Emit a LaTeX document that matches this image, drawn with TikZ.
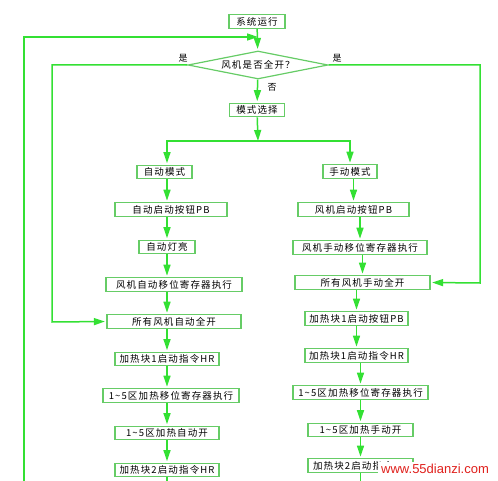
\documentclass[tikz,border=0pt]{standalone}
\usepackage{fontspec}
\usepackage{xcolor}
\usepackage{tikz}
\usetikzlibrary{arrows.meta,shapes.geometric}
\newfontfamily\cjkfont[LetterSpace=12]{Noto Sans CJK SC}
\newfontfamily\markfont{Liberation Sans}
\definecolor{flowLine}{HTML}{33E033}
\definecolor{flowBox}{HTML}{66CC66}
\definecolor{markRed}{HTML}{E0201C}
\tikzset{
  box/.style={
    rectangle,
    draw=flowBox,
    fill=white,
    line width=1.2pt,
    align=center,
    font=\cjkfont\fontsize{9.5}{11}\selectfont,
    minimum height=13.5pt,
    inner sep=0pt
  },
  decision/.style={
    diamond,
    draw=flowBox,
    fill=white,
    line width=1.2pt,
    shape aspect=5,
    font=\cjkfont\fontsize{9.5}{11}\selectfont,
    minimum width=140pt,
    minimum height=28pt,
    inner sep=0pt
  },
  tag/.style={font=\cjkfont\fontsize{9}{10}\selectfont, inner sep=0pt},
  line/.style={draw=flowLine, line width=1.5pt},
  arrow/.style={line, -{Triangle[length=11pt,width=7pt]}, shorten >=1.5pt}
}

\begin{document}
\begin{tikzpicture}[x=1pt, y=-1pt]
  \useasboundingbox (0,0) rectangle (498,481);

  % top of the chart
  \node[box, minimum width=56pt] (start) at (257,21.5) {系统运行};
  \node[decision] (dia) at (258,65) {风机是否全开？};
  \node[box, minimum width=55pt] (mode) at (257,110) {模式选择};
  \node[tag] (yesl) at (183,58) {是};
  \node[tag] (yesr) at (337,58) {是};
  \node[tag] (nolbl) at (272,87) {否};

  % automatic column
  \node[box, minimum width=55pt]  (a1) at (164.5,172) {自动模式};
  \node[box, minimum width=112pt] (a2) at (171,209.5) {自动启动按钮PB};
  \node[box, minimum width=56pt]  (a3) at (167,247) {自动灯亮};
  \node[box, minimum width=136pt] (a4) at (174,284.5) {风机自动移位寄存器执行};
  \node[box, minimum width=134pt] (a5) at (174,321.5) {所有风机自动全开};
  \node[box, minimum width=104pt] (a6) at (167,359) {加热块1启动指令HR};
  \node[box, minimum width=136pt] (a7) at (171,395.5) {1\textasciitilde5区加热移位寄存器执行};
  \node[box, minimum width=104pt] (a8) at (167,433) {1\textasciitilde5区加热自动开};
  \node[box, minimum width=104pt] (a9) at (167,470) {加热块2启动指令HR};

  % manual column
  \node[box, minimum width=54pt]  (b1) at (350,171.5) {手动模式};
  \node[box, minimum width=111pt] (b2) at (353.5,209.5) {风机启动按钮PB};
  \node[box, minimum width=134pt] (b3) at (360,247.5) {风机手动移位寄存器执行};
  \node[box, minimum width=135pt] (b4) at (362.5,282.5) {所有风机手动全开};
  \node[box, minimum width=103pt] (b5) at (356.5,318.5) {加热块1启动按钮PB};
  \node[box, minimum width=103pt] (b6) at (356.5,355.5) {加热块1启动指令HR};
  \node[box, minimum width=135pt] (b7) at (360.5,392.5) {1\textasciitilde5区加热移位寄存器执行};
  \node[box, minimum width=105pt] (b8) at (360.5,430) {1\textasciitilde5区加热手动开};
  \node[box, minimum width=105pt] (b9) at (360.5,465.5) {加热块2启动指令HR};

  \coordinate (colL) at (167,0);
  \coordinate (join) at (258,37);
  \coordinate (loopbot) at (24,481);
  \coordinate (split) at (258,141);
  \coordinate (yesLpt) at (52,322);
  \coordinate (yesRpt) at (480,283);
  \coordinate (endL) at (167,481);
  \coordinate (endR) at (360.5,481);

  \draw[arrow] (start) -- (dia);
  \draw[line, -{Triangle[length=11pt,width=7pt]}] (loopbot) |- (join);
  \draw[arrow] (dia) -- (mode);
  \draw[arrow] (dia.west) -| (yesLpt) -- (a5.west);
  \draw[arrow] (dia.east) -| (yesRpt) -- (b4.east);
  \draw[line, -{Triangle[length=11pt,width=7pt]}] (mode) -- (split);
  \draw[arrow] (split) -| (a1.north -| colL);
  \draw[arrow] (split) -| (b1.north);

  \foreach \u/\v in {a1/a2,a2/a3,a3/a4,a4/a5,a5/a6,a6/a7,a7/a8,a8/a9}
    \draw[arrow] (\u.south -| colL) -- (\v.north -| colL);
  \foreach \u/\v in {b1/b2,b2/b3,b3/b4,b4/b5,b5/b6,b6/b7,b7/b8,b8/b9}
    \draw[arrow] (\u.south -| \v.north) -- (\v.north);
  \draw[line] (a9.south -| colL) -- (endL);
  \draw[line] (b9.south -| endR) -- (endR);

  % site mark over the last box
  \node[anchor=west, fill=white, inner xsep=3pt, inner ysep=2pt, text=markRed,
        font=\markfont\fontsize{13}{14}\selectfont] (mark) at (378,469) {www.55dianzi.com};
\end{tikzpicture}
\end{document}
